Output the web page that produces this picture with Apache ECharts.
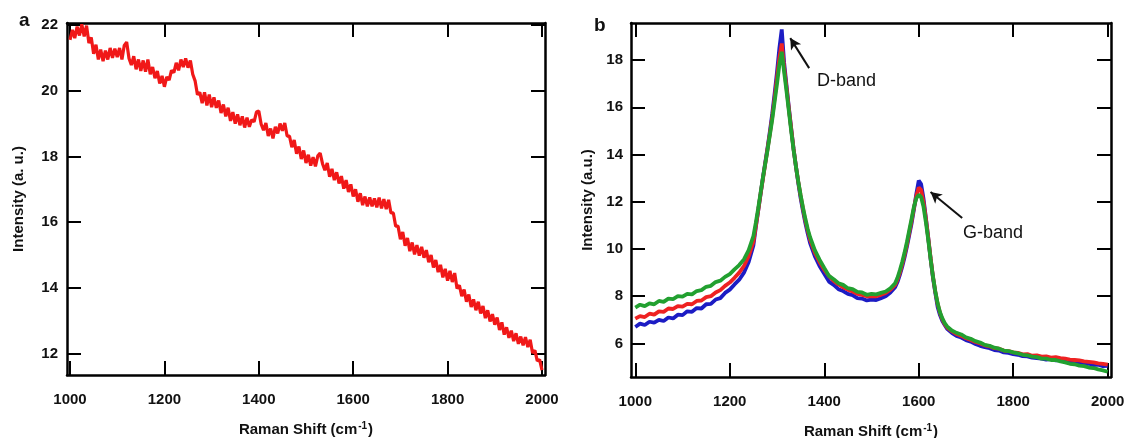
<!DOCTYPE html>
<html>
<head>
<meta charset="utf-8">
<script src="https://cdn.jsdelivr.net/npm/echarts@6/dist/echarts.min.js"></script>
<style>
html,body{margin:0;padding:0;background:#fff;}
#c{width:1127px;height:438px;}
</style>
</head>
<body>
<div id="c"></div>
<script>
// ---------- data ----------
const xTicks = [1000, 1200, 1400, 1600, 1800, 2000];
const leftYTicks = [12, 14, 16, 18, 20, 22];
const rightYTicks = [6, 8, 10, 12, 14, 16, 18];

// panel a: Raman shift from 1000 in steps of 5 cm-1
const leftStart = 1000, leftStep = 5;
const leftY = [
21.55,21.85,21.60,21.95,21.68,22.02,21.65,21.98,21.45,21.62,
21.12,21.40,20.95,21.25,20.90,21.22,20.95,21.30,21.00,21.28,
21.02,21.30,20.95,21.38,21.48,20.98,20.78,21.05,20.65,20.95,
20.60,20.92,20.58,20.95,20.50,20.72,20.38,20.60,20.22,20.45,
20.12,20.42,20.32,20.62,20.55,20.85,20.62,20.95,20.72,20.98,
20.70,20.92,20.50,20.30,19.88,19.95,19.62,19.95,19.55,19.88,
19.50,19.80,19.48,19.70,19.32,19.58,19.22,19.48,19.08,19.35,
19.00,19.28,18.95,19.22,18.88,19.18,18.90,19.12,19.05,19.35,
19.38,18.98,18.80,19.02,18.62,18.85,18.55,18.90,18.70,19.00,
18.78,19.02,18.62,18.62,18.28,18.50,18.08,18.30,17.92,18.18,
17.80,18.05,17.72,17.98,17.70,18.02,18.10,17.78,17.58,17.80,
17.38,17.62,17.28,17.52,17.18,17.40,17.02,17.28,16.92,17.15,
16.78,17.00,16.62,16.88,16.52,16.78,16.48,16.75,16.48,16.72,
16.45,16.75,16.42,16.70,16.40,16.68,16.28,16.28,15.88,15.88,
15.48,15.70,15.28,15.52,15.12,15.38,15.02,15.30,14.98,15.25,
14.92,15.15,14.78,15.00,14.62,14.85,14.48,14.70,14.32,14.58,
14.22,14.52,14.18,14.45,13.98,14.08,13.75,13.95,13.58,13.80,
13.42,13.65,13.32,13.58,13.22,13.45,13.08,13.32,12.98,13.20,
12.88,13.10,12.72,12.95,12.58,12.80,12.48,12.70,12.38,12.62,
12.30,12.52,12.25,12.50,12.20,12.42,12.02,12.10,11.78,11.82,
11.50
];

// panel b: shared Raman shift positions
const rightX = [
1000,1010,1020,1030,1040,1050,1060,1070,1080,1090,1100,1110,1120,1130,1140,1150,1160,1170,1180,1190,1200,1210,1220,1230,1240,1250,
1255,1260,1265,1270,1275,1280,1285,1290,1295,1300,1305,1310,1315,1320,1325,1330,1335,1340,1345,1350,1355,1360,1365,1370,
1380,1390,1400,1410,1420,1430,1440,1450,1460,1470,1480,1490,1500,1510,1520,1530,1540,1550,
1555,1560,1565,1570,1575,1580,1585,1590,1595,1600,1605,1610,1615,1620,1625,1630,1635,1640,1645,1650,1655,1660,
1670,1680,1690,1700,1710,1720,1730,1740,1750,1760,1770,1780,1790,1800,1810,1820,1830,1840,1850,1860,1870,1880,1890,1900,1910,1920,1930,1940,1950,1960,1970,1980,1990,2000
];
const blueY = [
6.70,6.84,6.78,6.92,6.88,7.00,6.95,7.10,7.06,7.22,7.20,7.36,7.34,7.50,7.48,7.66,7.68,7.86,7.92,8.14,8.28,8.50,8.70,9.00,9.45,10.15,
10.90,11.60,12.30,13.00,13.65,14.30,15.00,15.75,16.60,17.50,18.50,19.30,17.90,16.95,16.00,15.10,14.25,13.50,12.80,12.15,11.60,11.10,10.65,10.25,
9.70,9.28,8.95,8.62,8.48,8.30,8.22,8.10,8.05,7.92,7.90,7.82,7.86,7.84,7.92,8.00,8.16,8.38,
8.60,8.90,9.25,9.65,10.10,10.60,11.10,11.70,12.35,12.90,12.75,12.15,11.35,10.50,9.60,8.80,8.15,7.55,7.20,6.95,6.78,6.62,
6.45,6.32,6.25,6.14,6.08,5.98,5.90,5.84,5.80,5.72,5.70,5.62,5.60,5.55,5.52,5.46,5.45,5.40,5.38,5.36,5.32,5.34,5.28,5.30,5.24,5.22,5.18,5.20,5.12,5.14,5.08,5.10,5.04,5.05
];
const redY = [
7.05,7.16,7.12,7.26,7.22,7.36,7.34,7.48,7.46,7.58,7.56,7.68,7.66,7.80,7.82,7.96,8.00,8.16,8.26,8.44,8.58,8.78,9.00,9.28,9.70,10.30,
10.95,11.60,12.30,12.95,13.60,14.25,14.90,15.60,16.40,17.25,18.10,18.70,17.70,16.85,15.95,15.10,14.25,13.50,12.85,12.25,11.70,11.20,10.78,10.40,
9.85,9.45,9.12,8.85,8.65,8.50,8.38,8.28,8.20,8.10,8.06,8.00,8.00,8.00,8.06,8.14,8.28,8.48,
8.70,9.00,9.35,9.75,10.20,10.70,11.20,11.75,12.25,12.60,12.50,12.00,11.30,10.50,9.65,8.85,8.20,7.68,7.30,7.02,6.82,6.68,
6.52,6.40,6.32,6.22,6.15,6.06,6.00,5.92,5.88,5.80,5.78,5.70,5.68,5.62,5.60,5.54,5.55,5.48,5.50,5.44,5.45,5.40,5.42,5.38,5.36,5.32,5.30,5.28,5.24,5.22,5.20,5.16,5.14,5.10
];
const greenY = [
7.52,7.64,7.58,7.70,7.66,7.80,7.76,7.90,7.88,8.00,7.98,8.10,8.08,8.22,8.26,8.40,8.44,8.60,8.66,8.82,8.94,9.14,9.32,9.56,9.95,10.55,
11.10,11.70,12.35,13.00,13.60,14.20,14.85,15.50,16.25,17.00,17.80,18.35,17.50,16.70,15.85,15.00,14.20,13.50,12.85,12.28,11.75,11.28,10.85,10.50,
9.95,9.55,9.20,8.86,8.72,8.55,8.48,8.34,8.30,8.18,8.16,8.06,8.10,8.08,8.14,8.20,8.34,8.55,
8.78,9.10,9.45,9.85,10.30,10.80,11.30,11.80,12.15,12.30,12.20,11.80,11.15,10.40,9.60,8.85,8.22,7.70,7.32,7.06,6.86,6.72,
6.55,6.45,6.38,6.26,6.20,6.10,6.04,5.94,5.90,5.82,5.78,5.70,5.68,5.62,5.58,5.52,5.50,5.44,5.42,5.36,5.36,5.30,5.30,5.24,5.20,5.14,5.12,5.06,5.04,4.98,4.96,4.90,4.86,4.80
];

// annotation arrows (data coordinates: tail -> tip)
const dArrow = [[1368, 17.66], [1328, 18.93]];
const gArrow = [[1692, 11.31], [1625, 12.41]];

// ---------- chart ----------
const FONT = '"Liberation Sans", Arial, Helvetica, sans-serif';
const leftData = leftY.map((y, i) => [leftStart + leftStep * i, y]);
const pair = (ys) => ys.map((y, i) => [rightX[i], y]);

const tickStyle = { inside: true, length: 14, lineStyle: { color: '#000', width: 2 } };
const lineStyle = { lineStyle: { color: '#000', width: 2.5 }, onZero: false };
const labelStyle = { color: '#111', fontSize: 15, fontWeight: 'bold', fontFamily: FONT };
const nameRich = {
  t: { fontSize: 15, fontWeight: 'bold', fontFamily: FONT, color: '#111', lineHeight: 18 },
  s: { fontSize: 10, fontWeight: 'bold', fontFamily: FONT, color: '#111', verticalAlign: 'top', lineHeight: 18, padding: [0, 1, 6, 1] }
};

function xAx(grid, min, max, bottom) {
  return {
    type: 'value', gridIndex: grid, min: min, max: max,
    position: bottom ? 'bottom' : 'top',
    axisLine: lineStyle,
    axisTick: Object.assign({ customValues: xTicks }, tickStyle),
    axisLabel: bottom ? Object.assign({ customValues: xTicks, margin: 17, formatter: v => String(v) }, labelStyle) : { show: false },
    splitLine: { show: false },
    name: bottom ? '{t|Raman Shift (cm}{s|-1}{t|)}' : '',
    nameLocation: 'middle', nameGap: 46,
    nameTextStyle: { rich: nameRich }
  };
}
function yAx(grid, min, max, ticks, left, name, gap, margin) {
  return {
    type: 'value', gridIndex: grid, min: min, max: max,
    position: left ? 'left' : 'right',
    axisLine: lineStyle,
    axisTick: Object.assign({ customValues: ticks }, tickStyle),
    axisLabel: left ? Object.assign({ customValues: ticks, margin: margin, formatter: v => String(v) }, labelStyle) : { show: false },
    splitLine: { show: false },
    name: left ? name : '',
    nameLocation: 'middle', nameGap: gap, nameRotate: 90,
    nameTextStyle: { fontSize: 15, fontWeight: 'bold', fontFamily: FONT, color: '#111' }
  };
}

const chart = echarts.init(document.getElementById('c'), null, { renderer: 'canvas' });
chart.setOption({
  animation: false,
  backgroundColor: '#fff',
  grid: [
    { left: 67, top: 23, width: 478, height: 352, outerBoundsMode: 'none', containLabel: false },
    { left: 631, top: 23, width: 480, height: 354, outerBoundsMode: 'none', containLabel: false }
  ],
  xAxis: [
    xAx(0, 993.6, 2006.4, true),
    xAx(0, 993.6, 2006.4, false),
    xAx(1, 990.9, 2007, true),
    xAx(1, 990.9, 2007, false)
  ],
  yAxis: [
    yAx(0, 11.35, 22.06, leftYTicks, true, 'Intensity (a. u.)', 41, 9),
    yAx(0, 11.35, 22.06, leftYTicks, false, '', 0, 0),
    yAx(1, 4.58, 19.57, rightYTicks, true, 'Intensity (a.u.)', 36, 8),
    yAx(1, 4.58, 19.57, rightYTicks, false, '', 0, 0)
  ],
  series: [
    { type: 'line', xAxisIndex: 0, yAxisIndex: 0, data: leftData, showSymbol: false, symbol: 'none',
      lineStyle: { color: '#f01818', width: 3.2 }, z: 3 },
    { type: 'line', xAxisIndex: 2, yAxisIndex: 2, data: pair(blueY), showSymbol: false, symbol: 'none',
      lineStyle: { color: '#1c1cc4', width: 3.8 }, z: 3 },
    { type: 'line', xAxisIndex: 2, yAxisIndex: 2, data: pair(redY), showSymbol: false, symbol: 'none',
      lineStyle: { color: '#ee2222', width: 3.8 }, z: 4 },
    { type: 'line', xAxisIndex: 2, yAxisIndex: 2, data: pair(greenY), showSymbol: false, symbol: 'none',
      lineStyle: { color: '#22a030', width: 3.8 }, z: 5,
      markLine: {
        silent: true, animation: false,
        symbol: ['none', 'arrow'], symbolSize: [9, 11],
        lineStyle: { color: '#111', width: 2, type: 'solid' },
        label: { show: false },
        data: [
          [{ coord: dArrow[0] }, { coord: dArrow[1] }],
          [{ coord: gArrow[0] }, { coord: gArrow[1] }]
        ]
      }
    }
  ],
  graphic: [
    { type: 'text', left: 19, top: 11, style: { text: 'a', font: 'bold 19px ' + FONT, fill: '#111' } },
    { type: 'text', left: 594, top: 16, style: { text: 'b', font: 'bold 19px ' + FONT, fill: '#111' } },
    { type: 'text', left: 817, top: 72, style: { text: 'D-band', font: '18px ' + FONT, fill: '#111' } },
    { type: 'text', left: 963, top: 224, style: { text: 'G-band', font: '18px ' + FONT, fill: '#111' } }
  ]
});
</script>
</body>
</html>
